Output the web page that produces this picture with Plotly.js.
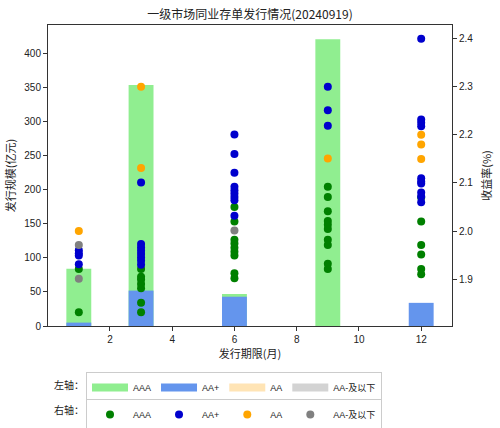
<!DOCTYPE html>
<html>
<head>
<meta charset="utf-8">
<script src="https://cdn.plot.ly/plotly-3.0.1.min.js"></script>
<style>html,body{margin:0;padding:0;background:#fff;}#chart{width:500px;height:428px;}</style>
</head>
<body>
<div id="chart"></div>
<script>
// Tenors (months)
const tenors = [1, 3, 6, 9, 12];
// Issuance volume (亿元) by rating — left axis
const volAAA = [84, 354, 47, 421, 0];
const volAAplus = [5, 52, 43, 0, 34];
const volAA = [0, 0, 0, 0, 0];
const volAAminus = [0, 0, 0, 0, 0];

// Yields (%) — right axis
const aaaX = [1, 1, 3, 3, 3, 3, 3, 3, 3, 6, 6, 6, 6, 6, 6, 6, 6, 6, 9, 9, 9, 9, 9, 9, 9, 9, 9, 9, 12, 12, 12, 12, 12, 12];
const aaaY = [1.921, 1.831, 1.921, 1.905, 1.899, 1.890, 1.881, 1.851, 1.831,
  2.050, 2.020, 1.982, 1.974, 1.965, 1.957, 1.949, 1.912, 1.902,
  2.092, 2.071, 2.041, 2.021, 2.013, 2.004, 1.982, 1.971, 1.932, 1.921,
  2.070, 2.020, 1.971, 1.951, 1.921, 1.910];
const aapX = [1, 1, 1, 1, 3, 3, 3, 3, 3, 3, 3, 3, 6, 6, 6, 6, 6, 6, 6, 6, 6, 9, 9, 9, 12, 12, 12, 12, 12, 12, 12, 12, 12, 12];
const aapY = [1.960, 1.954, 1.949, 1.931,
  2.101, 1.973, 1.966, 1.959, 1.952, 1.945, 1.938, 1.930,
  2.201, 2.160, 2.121, 2.092, 2.085, 2.078, 2.071, 2.064, 2.032,
  2.300, 2.251, 2.219,
  2.400, 2.232, 2.225, 2.218, 2.110, 2.103, 2.099, 2.080, 2.072, 2.060];
const aaX = [1, 3, 3, 9, 12, 12, 12];
const aaY = [2.000, 2.300, 2.131, 2.151, 2.200, 2.180, 2.150];
const aamX = [1, 1, 6];
const aamY = [1.971, 1.901, 2.001];

const ratingNames = ['AAA', 'AA+', 'AA', 'AA-及以下'];
const barColors = ['#90EE90', '#6495ED', '#FFE4B5', '#D3D3D3'];
const dotColors = ['#008000', '#0000CD', '#FFA500', '#808080'];

const vols = [volAAA, volAAplus, volAA, volAAminus];
const dotsX = [aaaX, aapX, aaX, aamX];
const dotsY = [aaaY, aapY, aaY, aamY];

const traces = [];
vols.forEach((v, i) => {
  traces.push({type: 'bar', x: tenors, y: v, width: 0.8, marker: {color: barColors[i], line: {width: 0}},
    name: ratingNames[i], showlegend: false, xaxis: 'x', yaxis: 'y', hoverinfo: 'skip'});
});
// legend proxies for bar series (patch style)
ratingNames.forEach((n, i) => {
  traces.push({type: 'scatter', mode: 'lines', x: [null], y: [null], line: {color: barColors[i], width: 8},
    name: n, legend: 'legend', xaxis: 'x', yaxis: 'y', hoverinfo: 'skip'});
});
ratingNames.forEach((n, i) => {
  traces.push({type: 'scatter', mode: 'markers', x: dotsX[i], y: dotsY[i],
    marker: {color: dotColors[i], size: 8, line: {width: 0}},
    name: n, legend: 'legend2', xaxis: 'x', yaxis: 'y2'});
});

const axisFont = {family: 'Liberation Sans, Noto Sans CJK SC, sans-serif', size: 10, color: '#222'};
const cjk = 'Noto Sans CJK SC, Liberation Sans, sans-serif';
const legFont = {family: 'Liberation Sans, Noto Sans CJK SC, sans-serif', size: 9, color: '#222'};

const layout = {
  width: 500, height: 428,
  margin: {l: 48, r: 48, t: 25, b: 102},
  paper_bgcolor: '#fff', plot_bgcolor: '#fff',
  font: {family: cjk, size: 10, color: '#222'},
  barmode: 'overlay',
  title: {text: '一级市场同业存单发行情况(20240919)', font: {family: cjk, size: 12, color: '#222'},
    x: 0.5, xanchor: 'center', y: 0.965, yanchor: 'middle'},
  xaxis: {range: [0.01, 12.99], tickvals: [2, 4, 6, 8, 10, 12], ticks: 'outside', ticklen: 4, tickcolor: '#333',
    showline: true, linecolor: '#333', linewidth: 1, mirror: true, showgrid: false, zeroline: false,
    tickfont: axisFont, automargin: false,
    title: {text: '发行期限(月)', font: {family: cjk, size: 11, color: '#222'}, standoff: 4}},
  yaxis: {range: [0, 442], tickvals: [0, 50, 100, 150, 200, 250, 300, 350, 400], ticks: 'outside', ticklen: 4,
    tickcolor: '#333', showline: true, linecolor: '#333', linewidth: 1, showgrid: false, zeroline: false,
    tickfont: axisFont, automargin: false,
    title: {text: '发行规模(亿元)', font: {family: cjk, size: 11, color: '#222'}, standoff: 6}},
  yaxis2: {range: [1.8025, 2.4285], overlaying: 'y', side: 'right', tickvals: [1.9, 2.0, 2.1, 2.2, 2.3, 2.4],
    tickformat: '.1f', ticks: 'outside', ticklen: 4, tickcolor: '#333', showline: true, linecolor: '#333',
    linewidth: 1, showgrid: false, zeroline: false, tickfont: axisFont, automargin: false,
    title: {text: '收益率(%)', font: {family: cjk, size: 11, color: '#222'}, standoff: 10}},
  legend: {orientation: 'h', xref: 'container', yref: 'container', x: 0.172, y: 0.131, xanchor: 'left', yanchor: 'top',
    bordercolor: '#ccc', borderwidth: 1, bgcolor: '#fff',
    font: legFont, itemwidth: 36, tracegroupgap: 0},
  legend2: {orientation: 'h', xref: 'container', yref: 'container', x: 0.172, y: 0.0678, xanchor: 'left', yanchor: 'top',
    bordercolor: '#ccc', borderwidth: 1, bgcolor: '#fff',
    font: legFont, itemwidth: 36, tracegroupgap: 0},
  annotations: [
    {text: '左轴：', xref: 'paper', yref: 'paper', x: 0.094, y: -0.196, xanchor: 'right', yanchor: 'middle',
      showarrow: false, font: {family: cjk, size: 10, color: '#222'}},
    {text: '右轴：', xref: 'paper', yref: 'paper', x: 0.094, y: -0.279, xanchor: 'right', yanchor: 'middle',
      showarrow: false, font: {family: cjk, size: 10, color: '#222'}}
  ],
  showlegend: true
};

Plotly.newPlot('chart', traces, layout, {displayModeBar: false, responsive: false});
</script>
</body>
</html>
